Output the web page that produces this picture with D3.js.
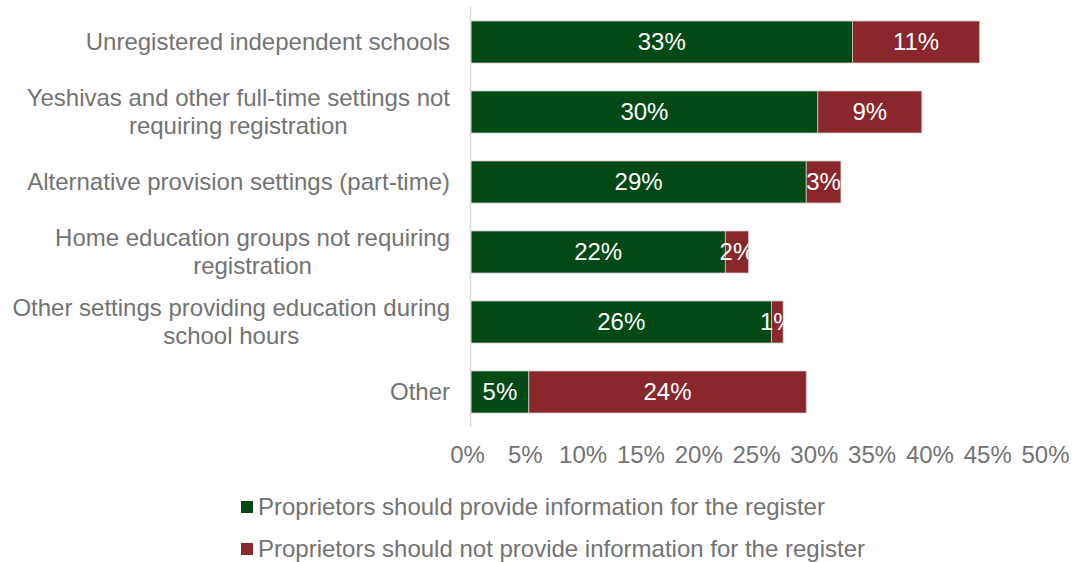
<!DOCTYPE html>
<html>
<head>
<meta charset="utf-8">
<script src="https://cdn.jsdelivr.net/npm/d3@7"></script>
<style>
  html, body { margin: 0; padding: 0; background: #ffffff; }
  svg { display: block; font-family: "Liberation Sans", Arial, sans-serif; }
</style>
</head>
<body>
<svg id="chart" width="1078" height="562"></svg>
<script>
// Categories (each entry is the list of lines drawn for that label)
const categories = [
  ["Unregistered independent schools"],
  ["Yeshivas and other full-time settings not", "requiring registration"],
  ["Alternative provision settings (part-time)"],
  ["Home education groups not requiring", "registration"],
  ["Other settings providing education during", "school hours"],
  ["Other"]
];
const shouldProvide    = [33, 30, 29, 22, 26, 5];
const shouldNotProvide = [11, 9, 3, 2, 1, 24];
const seriesNames = [
  "Proprietors should provide information for the register",
  "Proprietors should not provide information for the register"
];
const tickValues = [0, 5, 10, 15, 20, 25, 30, 35, 40, 45, 50];

const colors = ["#034915", "#8a272c"];
const textGray = "#737373";
const FS = 24;

const svg = d3.select("#chart");
const margin = { left: 471, right: 29, top: 7, bottom: 135 };
const W = 1078, H = 562;

const x = d3.scaleLinear().domain([0, 50]).range([margin.left, W - margin.right]);
const y = d3.scaleBand()
  .domain(d3.range(categories.length))
  .range([margin.top, H - margin.bottom])
  .paddingInner(0.4)
  .paddingOuter(0.2);

const rows = categories.map((c, i) => ({
  i,
  parts: [
    { s: 0, x0: 0, x1: shouldProvide[i], v: shouldProvide[i] },
    { s: 1, x0: shouldProvide[i], x1: shouldProvide[i] + shouldNotProvide[i], v: shouldNotProvide[i] }
  ]
}));

// Stacked bars
const g = svg.append("g");
rows.forEach(r => {
  r.parts.forEach(p => {
    g.append("rect")
      .attr("x", x(p.x0))
      .attr("y", y(r.i))
      .attr("width", x(p.x1) - x(p.x0))
      .attr("height", y.bandwidth())
      .attr("fill", colors[p.s])
      .attr("stroke", "#c9c9c9")
      .attr("stroke-width", 0.8);
  });
});

// Value labels, cut off at the right end of their segment
const defs = svg.append("defs");
rows.forEach(r => {
  r.parts.forEach(p => {
    const id = `clip-${r.i}-${p.s}`;
    defs.append("clipPath").attr("id", id)
      .append("rect")
      .attr("x", x(0))
      .attr("y", y(r.i))
      .attr("width", x(p.x1) - x(0))
      .attr("height", y.bandwidth());
    g.append("text")
      .attr("clip-path", `url(#${id})`)
      .attr("x", (x(p.x0) + x(p.x1)) / 2)
      .attr("y", y(r.i) + y.bandwidth() / 2)
      .attr("dy", "0.35em")
      .attr("text-anchor", "middle")
      .attr("fill", "#ffffff")
      .attr("font-size", FS)
      .text(p.v + "%");
  });
});

// Vertical category axis line
svg.append("line")
  .attr("x1", margin.left - 0.5).attr("x2", margin.left - 0.5)
  .attr("y1", margin.top).attr("y2", H - margin.bottom)
  .attr("stroke", "#d9d9d9").attr("stroke-width", 1.5);

// Category labels: each block right-aligned, lines centred within the block
const labelRight = 450;
const lineH = 28;
categories.forEach((lines, i) => {
  const t = svg.append("text")
    .attr("fill", textGray)
    .attr("font-size", FS)
    .attr("text-anchor", "middle");
  const spans = lines.map((ln, k) => t.append("tspan").text(ln));
  const maxW = d3.max(spans, s => s.node().getComputedTextLength());
  const cx = labelRight - maxW / 2;
  const cy = y(i) + y.bandwidth() / 2;
  spans.forEach((s, k) => {
    s.attr("x", cx)
     .attr("y", cy + (k - (lines.length - 1) / 2) * lineH)
     .attr("dy", "0.35em");
  });
});

// Horizontal value axis labels
const xAxis = d3.axisBottom(x)
  .tickValues(tickValues)
  .tickFormat(d => d + "%")
  .tickSize(0)
  .tickPadding(0);
const ax = svg.append("g")
  .attr("transform", `translate(0, ${H - margin.bottom + 19})`)
  .call(xAxis);
ax.select(".domain").remove();
ax.selectAll("text")
  .attr("fill", textGray)
  .attr("font-size", FS)
  .attr("font-family", "Liberation Sans, Arial, sans-serif")
  .attr("dx", -4);

// Legend
const legend = svg.append("g");
seriesNames.forEach((name, k) => {
  const ly = 507 + k * 42;
  legend.append("rect")
    .attr("x", 241).attr("y", ly - 6)
    .attr("width", 12).attr("height", 12)
    .attr("fill", colors[k]);
  legend.append("text")
    .attr("x", 258).attr("y", ly)
    .attr("dy", "0.35em")
    .attr("fill", textGray)
    .attr("font-size", FS)
    .text(name);
});
</script>
</body>
</html>
